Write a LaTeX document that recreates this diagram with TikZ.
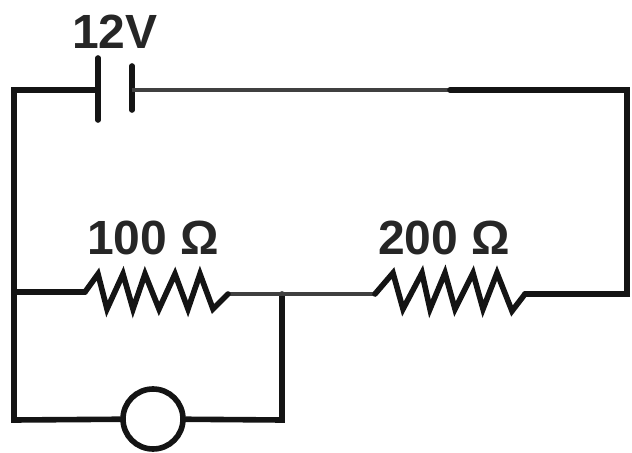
\documentclass[tikz,border=0pt]{standalone}
\usepackage{fontspec}
\setmainfont{Liberation Sans}
\usepackage{tikz}
\usetikzlibrary{calc}

\begin{document}
\begin{tikzpicture}[x=0.75pt,y=-0.75pt,line join=miter,
    wire/.style={draw=black!92,line width=4.2pt,line cap=round},
    thinwire/.style={draw=black!75,line width=3.2pt},
    value/.style={font=\fontsize{36}{36}\selectfont\bfseries,text=black!85,inner sep=0pt}]
    \useasboundingbox (0,0) rectangle (632,453);
    \begin{scope}
      % corners and junctions
      \coordinate (TL) at (14,90);
      \coordinate (TR) at (627,90);
      \coordinate (TM) at (450,90);
      \coordinate (ML) at (14,292);
      \coordinate (MR) at (627,294);
      \coordinate (BL) at (14,420);
      \coordinate (J) at (282,294);
      \coordinate (BJ) at (282,420);
      % battery
      \coordinate (BatA) at (98,90);
      \coordinate (BatAtop) at (98,58);
      \coordinate (BatAbot) at (98,120);
      \coordinate (BatB) at (132,90);
      \coordinate (BatBtop) at (132,66);
      \coordinate (BatBbot) at (132,110);
      % resistors
      \coordinate (RAin) at (85,292);
      \coordinate (RAout) at (228,294);
      \coordinate (RBin) at (375,294);
      \coordinate (RBout) at (525,294);
      \node[draw=black!92,line width=4.2pt,circle,fill=white,minimum size=45pt,inner sep=0pt] (Lamp) at (153,419) {};
      \node[value] (Bat) at (115,32) {12V};
      \node[value] (RA) at (153,238) {100 Ω};
      \node[value] (RB) at (444,238) {200 Ω};

      \draw[wire] (BatAtop) -- (BatAbot);
      \draw[wire] (BatBtop) -- (BatBbot);
      \draw[wire] (BatA) -- (TL) -- (ML) -- (BL) -- (Lamp);
      \draw[thinwire] (BatB) -- (TM);
      \draw[wire] (TM) -- (TR) -- (MR) -- (RBout);
      \draw[wire] (ML) -- (RAin);
      \draw[wire] (Lamp) -- (BJ) -- (J);
      \draw[thinwire] (RAout) -- (RBin);
      \draw[wire] (RAin) -- (98,274) -- (107,309) -- (123,274) -- (133,309)
        -- (145,274) -- (159,309) -- (175,274) -- (188,309) -- (200,274)
        -- (213,309) -- (RAout);
      \draw[wire] (RBin) -- (393,273) -- (403,309) -- (422,273) -- (430,309)
        -- (445,273) -- (455,309) -- (473,273) -- (483,309) -- (497,273)
        -- (512,311) -- (RBout);
    \end{scope}
  \end{tikzpicture}
\end{document}
